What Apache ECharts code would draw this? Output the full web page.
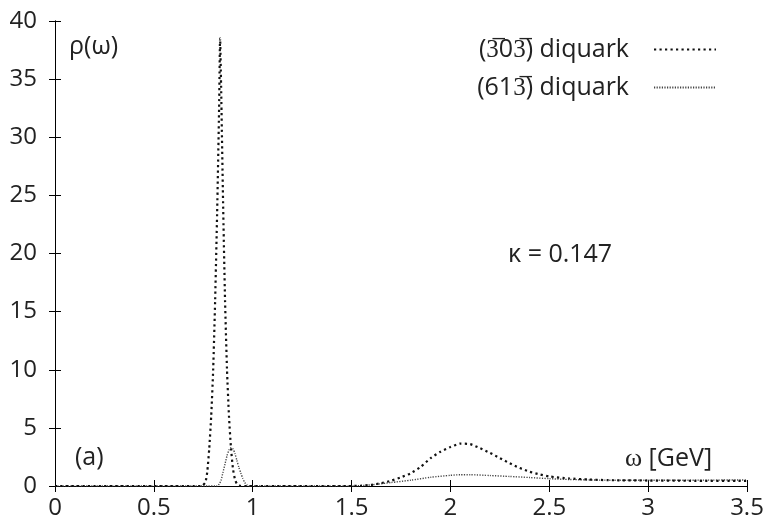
<!DOCTYPE html>
<html>
<head>
<meta charset="utf-8">
<script src="https://cdn.jsdelivr.net/npm/echarts@6/dist/echarts.min.js"></script>
<style>
html,body{margin:0;padding:0;background:#ffffff;}
#chart{width:767px;height:523px;}
</style>
</head>
<body>
<div id="chart"></div>
<script>
// ---- data ----
var xTickLabels = ['0', '0.5', '1', '1.5', '2', '2.5', '3', '3.5'];
var yTickLabels = ['0', '5', '10', '15', '20', '25', '30', '35', '40'];

var seriesNames = ['(3\u030503\u0305) diquark', '(613\u0305) diquark'];

var omega303 = [0, 0.74, 0.76, 0.77, 0.78, 0.79, 0.80, 0.81, 0.82, 0.83, 0.835, 0.84, 0.85, 0.86, 0.87, 0.88, 0.89, 0.90, 0.91, 0.92, 0.94, 1.0,
  1.5, 1.55, 1.6, 1.65, 1.7, 1.75, 1.8, 1.85, 1.9, 1.95, 2.0, 2.05, 2.1, 2.15, 2.2, 2.25, 2.3, 2.35, 2.4, 2.45, 2.5, 2.6, 2.7, 2.8, 3.0, 3.2, 3.5];
var rho303 = [0, 0, 0.3, 1.2, 3.2, 6.0, 10.0, 16.0, 23.5, 32.5, 38.5, 34.5, 24.5, 16.0, 10.0, 6.0, 3.3, 1.5, 0.6, 0.2, 0, 0,
  0, 0.03, 0.1, 0.25, 0.45, 0.75, 1.1, 1.65, 2.4, 2.95, 3.35, 3.65, 3.6, 3.25, 2.85, 2.4, 1.95, 1.55, 1.23, 1.0, 0.82, 0.65, 0.56, 0.5, 0.47, 0.45, 0.43];

var omega613 = [0, 0.82, 0.83, 0.84, 0.85, 0.86, 0.87, 0.88, 0.89, 0.90, 0.91, 0.92, 0.93, 0.94, 0.95, 0.96, 0.97, 0.98, 0.99, 1.02,
  1.5, 1.6, 1.7, 1.8, 1.9, 2.0, 2.05, 2.1, 2.2, 2.3, 2.4, 2.5, 2.6, 2.8, 3.0, 3.2, 3.5];
var rho613 = [0, 0, 0.15, 0.5, 1.2, 1.9, 2.6, 3.1, 3.3, 3.2, 2.8, 2.2, 1.6, 1.1, 0.65, 0.3, 0.1, 0.02, 0, 0,
  0, 0.1, 0.3, 0.5, 0.75, 0.92, 0.97, 0.97, 0.9, 0.82, 0.73, 0.63, 0.56, 0.5, 0.5, 0.5, 0.52];

var annotations = {
  yLabel: '\u03c1(\u03c9)',
  xLabelSymbol: '\u03c9',
  xLabelUnit: ' [GeV]',
  panel: '(a)',
  kappa: '\u03ba = 0.147'
};

function pairs(xs, ys) {
  var out = [];
  for (var i = 0; i < xs.length; i++) out.push([xs[i], ys[i]]);
  return out;
}

var FONT = 'Open Sans';
var TXT = '#222222';
var TICKFS = 24;
var TEXTFS = 25;

var chart = echarts.init(document.getElementById('chart'), null, {renderer: 'canvas'});

var axisLine = {show: true, lineStyle: {color: '#000', width: 1}};
var axisTick = {show: true, inside: true, length: 6, lineStyle: {color: '#000', width: 1}};

function xFmt(v) { var i = Math.round(v / 0.5); return xTickLabels[i] !== undefined ? xTickLabels[i] : ''; }
function yFmt(v) { var i = Math.round(v / 5); return yTickLabels[i] !== undefined ? yTickLabels[i] : ''; }

var option = {
  backgroundColor: '#ffffff',
  animation: false,
  grid: {left: 55, right: 20, top: 21, bottom: 37, containLabel: false},
  xAxis: [
    {type: 'value', min: 0, max: 3.5, interval: 0.5, position: 'bottom',
     axisLine: axisLine, axisTick: axisTick, splitLine: {show: false},
     axisLabel: {show: true, formatter: xFmt, fontFamily: FONT, fontSize: TICKFS, color: TXT, margin: 10}},
    {type: 'value', min: 0, max: 3.5, interval: 0.5, position: 'top',
     axisLine: axisLine, axisTick: axisTick, splitLine: {show: false},
     axisLabel: {show: false}}
  ],
  yAxis: [
    {type: 'value', min: 0, max: 40, interval: 5, position: 'left',
     axisLine: axisLine, axisTick: axisTick, splitLine: {show: false},
     axisLabel: {show: true, formatter: yFmt, fontFamily: FONT, fontSize: TICKFS, color: TXT, margin: 18}},
    {type: 'value', min: 0, max: 40, interval: 5, position: 'right',
     axisLine: axisLine, axisTick: axisTick, splitLine: {show: false},
     axisLabel: {show: false}}
  ],
  legend: {
    orient: 'vertical', right: 45, top: 32, align: 'right',
    itemWidth: 62, itemHeight: 12, itemGap: 13,
    itemStyle: {opacity: 0},
    textStyle: {fontFamily: FONT, fontSize: TEXTFS, color: TXT, padding: [0, 20, 0, 0]},
    data: seriesNames
  },
  series: [
    {name: seriesNames[0], type: 'line', xAxisIndex: 0, yAxisIndex: 0, symbol: 'none', smooth: 0.2,
     lineStyle: {color: '#111', width: 2.2, type: [2.2, 3.3]},
     itemStyle: {color: '#111'},
     data: pairs(omega303, rho303), z: 3},
    {name: seriesNames[1], type: 'line', xAxisIndex: 0, yAxisIndex: 0, symbol: 'none', smooth: 0.2,
     lineStyle: {color: '#444', width: 1.4, type: [1.2, 1.4]},
     itemStyle: {color: '#444'},
     data: pairs(omega613, rho613), z: 2}
  ],
  graphic: [
    {type: 'text', left: 69, top: 34, style: {text: annotations.yLabel, font: TEXTFS + 'px "' + FONT + '"', fill: TXT}},
    {type: 'text', left: 75, top: 445, style: {text: annotations.panel, font: TEXTFS + 'px "' + FONT + '"', fill: TXT}},
    {type: 'text', left: 625, top: 446, style: {
      text: '{s|' + annotations.xLabelSymbol + '}' + annotations.xLabelUnit,
      font: TEXTFS + 'px "' + FONT + '"', fill: TXT,
      rich: {s: {fontFamily: 'Liberation Serif', fontSize: TEXTFS + 1, fill: TXT}}}},
    {type: 'text', left: 508, top: 242, style: {text: annotations.kappa, font: TEXTFS + 'px "' + FONT + '"', fill: TXT}}
  ]
};
chart.setOption(option);
</script>
</body>
</html>
